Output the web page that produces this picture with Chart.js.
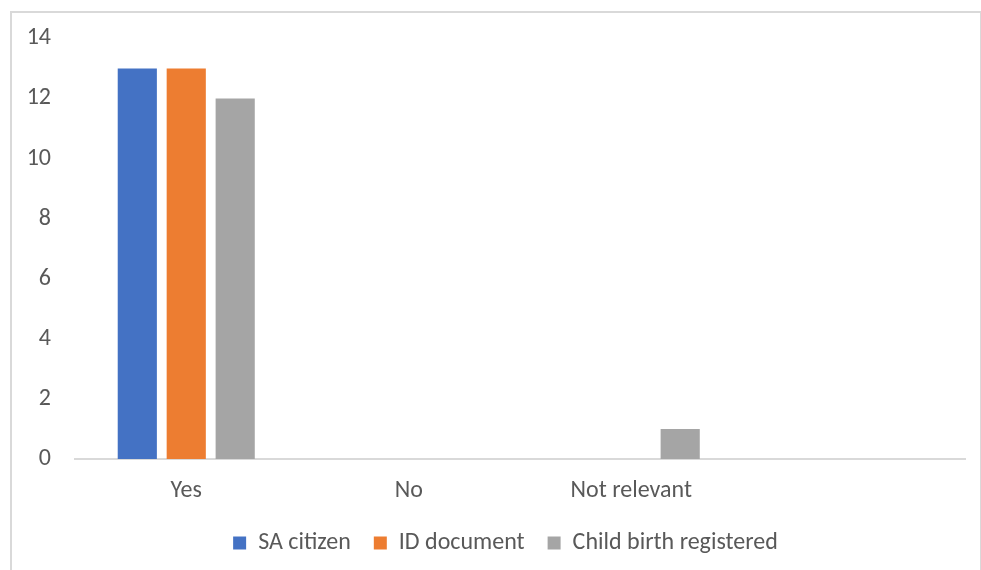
<!DOCTYPE html>
<html lang="en">
<head>
  <meta charset="UTF-8">
  <title>Bar chart - citizenship, ID and birth registration</title>
  <script src="https://cdn.jsdelivr.net/npm/chart.js"></script>
  <style>
    body {
      margin: 0;
      width: 981px;
      height: 570px;
      overflow: hidden;
      background: white;
      position: relative;
    }

    /* light frame round the chart, like the Excel chart border */
    #frame {
      position: absolute;
      left: 10px;
      top: 11px;
      width: 968px;
      height: 600px;
      border: 2px solid #d9d9d9;
      border-bottom: none;
    }

    #chart-container {
      position: absolute;
      left: 0;
      top: 0;
      width: 981px;
      height: 570px;
    }
  </style>
</head>
<body>
  <div id="frame"></div>
  <div id="chart-container">
    <canvas id="myChart"></canvas>
  </div>

  <script>
    // data
    const categories = ['Yes', 'No', 'Not relevant', ''];
    const saCitizen = [13, 0, 0, 0];
    const idDocument = [13, 0, 0, 0];
    const birthRegistered = [12, 0, 1, 0];
    const yTicks = [0, 2, 4, 6, 8, 10, 12, 14];

    const textColor = '#595959';
    const fontFamily = 'Carlito, Calibri, "Open Sans", sans-serif';

    // nudge the bottom legend a little right, the original is centred on the frame not the canvas
    const legendShift = {
      id: 'legendShift',
      afterLayout: function(chart) {
        chart.legend.left += 13;
        chart.legend.right += 13;
      }
    };

    const ctx = document.getElementById('myChart').getContext('2d');
    const myChart = new Chart(ctx, {
      type: 'bar',
      data: {
        labels: categories,
        datasets: [
          {
            label: 'SA citizen',
            data: saCitizen,
            backgroundColor: '#4472c4'
          },
          {
            label: 'ID document',
            data: idDocument,
            backgroundColor: '#ed7d31'
          },
          {
            label: 'Child birth registered',
            data: birthRegistered,
            backgroundColor: '#a5a5a5'
          }
        ]
      },
      plugins: [legendShift],
      options: {
        responsive: true,
        maintainAspectRatio: false,
        animation: false,
        categoryPercentage: 0.66,
        barPercentage: 0.8,
        layout: {
          padding: { left: 20, right: 16, top: 34, bottom: 5 }
        },
        plugins: {
          tooltip: { enabled: false },
          legend: {
            position: 'bottom',
            labels: {
              boxWidth: 13,
              boxHeight: 13,
              padding: 23,
              color: textColor,
              font: { family: fontFamily, size: 24 }
            }
          }
        },
        scales: {
          x: {
            grid: { display: false, drawTicks: false },
            border: { color: '#d9d9d9', width: 2 },
            ticks: {
              color: textColor,
              padding: 18,
              font: { family: fontFamily, size: 24 }
            },
            afterFit: function(scale) { scale.height = 49; }
          },
          y: {
            min: 0,
            max: 14,
            grid: { display: false, drawTicks: false },
            border: { display: false },
            afterBuildTicks: function(scale) {
              scale.ticks = yTicks.map(v => ({ value: v }));
            },
            ticks: {
              color: textColor,
              padding: 24,
              font: { family: fontFamily, size: 24 }
            },
            afterFit: function(scale) { scale.width = 55; }
          }
        }
      }
    });
  </script>
</body>
</html>
